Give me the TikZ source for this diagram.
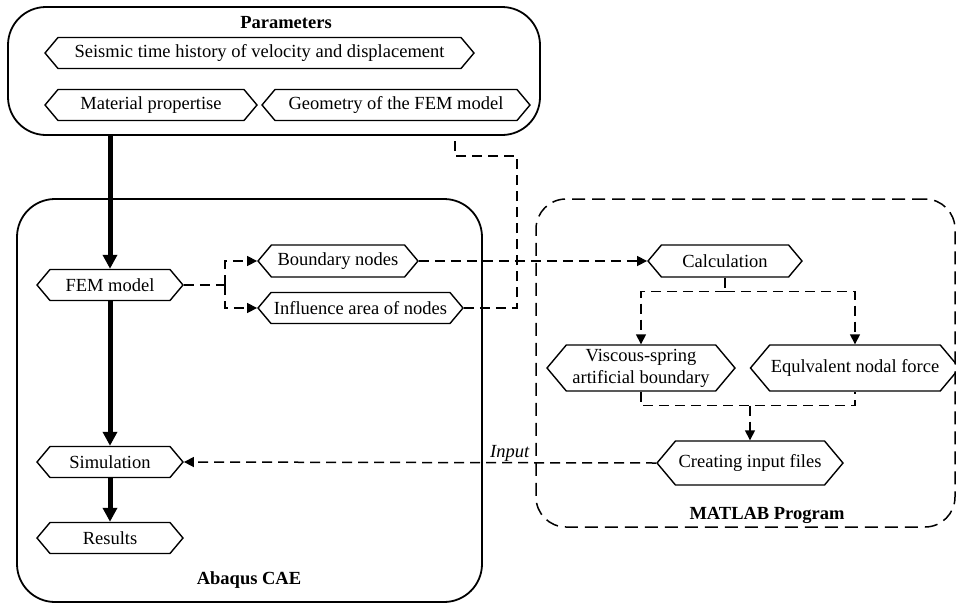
\documentclass[tikz,border=0pt]{standalone}
\usepackage{fontspec}
\setmainfont{Liberation Serif}
\usetikzlibrary{shapes.symbols,arrows.meta}

\begin{document}
\begin{tikzpicture}[x=1pt,y=-1pt,
    font=\fontsize{18.5}{22}\selectfont,
    hexa/.style={signal, signal to=east and west, signal pointer angle=100, draw, line width=1.4pt,
                 inner sep=1pt, minimum height=31pt, align=center},
    frame/.style={draw, line width=1.8pt, rounded corners=38pt, inner sep=0pt},
    title/.style={font=\fontsize{18.5}{22}\selectfont\bfseries},
    dline/.style={line width=1.5pt, dash pattern=on 10pt off 6pt},
    darrow/.style={dline, -{Triangle[length=10pt,width=10pt]}},
    bigarrow/.style={line width=5pt, -{Triangle[length=14pt,width=14pt]}}]
  \useasboundingbox (0,0) rectangle (956,603);

  % frames
  \node[frame, minimum width=532pt, minimum height=128pt] (param) at (274,71) {};
  \node[frame, minimum width=465pt, minimum height=403pt] (abaqus) at (249.5,400.5) {};
  \node[frame, line width=1.5pt, dash pattern=on 13pt off 7pt, rounded corners=30pt,
        minimum width=419pt, minimum height=328pt] (matlab) at (745.5,363) {};
  \node[title] (ptitle) at (286,23) {Parameters};
  \node[title] (atitle) at (249,580) {Abaqus CAE};
  \node[title] (mtitle) at (767,515) {MATLAB Program};

  % parameters
  \node[hexa, minimum width=429pt] (seis) at (259.5,53) {Seismic time history of velocity and displacement};
  \node[hexa, minimum width=212pt] (mat) at (151,105) {Material propertise};
  \node[hexa, minimum width=268pt] (geo) at (396,105) {Geometry of the FEM model};

  % abaqus side
  \node[hexa, minimum width=146pt] (fem) at (110,285) {FEM model};
  \node[hexa, minimum width=160pt, minimum height=32pt] (bnd) at (338,261) {Boundary nodes};
  \node[hexa, minimum width=205pt] (infl) at (360.5,308) {Influence area of nodes};
  \node[hexa, minimum width=146pt] (sim) at (110,462) {Simulation};
  \node[hexa, minimum width=146pt] (res) at (110,538) {Results};

  % matlab side
  \node[hexa, minimum width=154pt, minimum height=32pt] (calc) at (725,261) {Calculation};
  \node[hexa, minimum width=188pt, minimum height=46pt] (visc) at (641,368) {Viscous-spring\\artificial boundary};
  \node[hexa, minimum width=186pt, minimum height=46pt] (equi) at (855,368) {Equlvalent nodal force};
  \node[hexa, minimum width=186pt, minimum height=44pt] (crea) at (750,463) {Creating input files};

  % main flow
  \draw[bigarrow] (param.south -| fem.north) -- (fem.north);
  \draw[bigarrow] (fem.south) -- (sim.north);
  \draw[bigarrow] (sim.south) -- (res.north);

  % dashed links
  \draw[dline] (fem.east) -- ++(41,0) coordinate (fork);
  \draw[darrow] (fork) |- (bnd.west);
  \draw[darrow] (fork) |- (infl.west);
  \draw[darrow] (bnd.east) -- (calc.west);
  \draw[dline] (infl.east) -| (517,156) -| (param.south -| 455,0);
  \draw[dline] (calc.south) -- ++(0,14) coordinate (split);
  \draw[darrow] (split) -| (visc.north);
  \draw[darrow] (split) -| (equi.north);
  \draw[dline] (visc.south) -- ++(0,14) coordinate (join) -| (equi.south);
  \draw[darrow] (join -| crea.north) -- (crea.north);
  \draw[darrow] (crea.west) -- node[pos=0.31, above, inner sep=1pt, font=\fontsize{18.5}{22}\selectfont\itshape] (inp) {Input} (sim.east);
\end{tikzpicture}
\end{document}
